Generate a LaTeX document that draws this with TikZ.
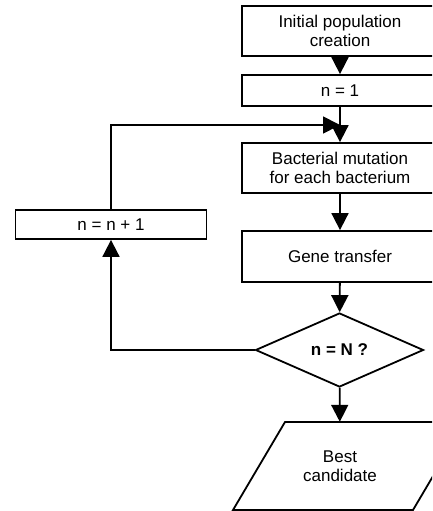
\documentclass[tikz,border=0pt]{standalone}
\usepackage{fontspec}
\setmainfont{Liberation Sans}
\usetikzlibrary{arrows.meta,shapes.geometric}
\begin{document}
\begin{tikzpicture}[x=1pt,y=-1pt,
  every node/.style={font=\fontsize{17}{19.5}\selectfont, align=center, inner sep=0pt},
  procbox/.style={draw, line width=1.8pt, minimum width=196pt},
  decision/.style={draw, line width=1.8pt, diamond, aspect=2.27, minimum width=168pt, minimum height=74pt, font=\fontsize{17}{19.5}\selectfont\bfseries},
  flow/.style={line width=1.8pt, -{Triangle[length=17pt,width=17pt]}},
  link/.style={line width=1.8pt}]
\useasboundingbox (0,0) rectangle (432,511);
\clip (0,0) rectangle (432,511);

\node[procbox, minimum height=50pt] (init) at (340,31) {Initial population\\creation};
\node[procbox, minimum height=31pt] (one) at (340,90.5) {n = 1};
\node[procbox, minimum height=50pt] (mut) at (340,168) {Bacterial mutation\\for each bacterium};
\node[procbox, minimum height=51pt] (gene) at (340,256.5) {Gene transfer};
\node[decision] (test) at (339.5,350) {n = N ?};
\node[procbox, minimum width=191pt, minimum height=29pt] (inc) at (111,224.5) {n = n + 1};

% output parallelogram
\node[minimum width=180pt, minimum height=88pt] (best) at (340,466) {Best\\candidate};
\draw[link, line join=miter] (285,422) -- (465,422) -- (413,510) -- (233,510) -- cycle;

\coordinate (join) at (340,125);

\draw[flow] (init) -- (one);
\draw[flow] (one) -- (mut);
\draw[flow] (mut) -- (gene);
\draw[flow] (gene) -- (test);
\draw[flow] (test) -- (best);
\draw[flow] (test.west) -| (inc.south);
\draw[flow] (inc.north) |- (join);
\end{tikzpicture}
\end{document}
